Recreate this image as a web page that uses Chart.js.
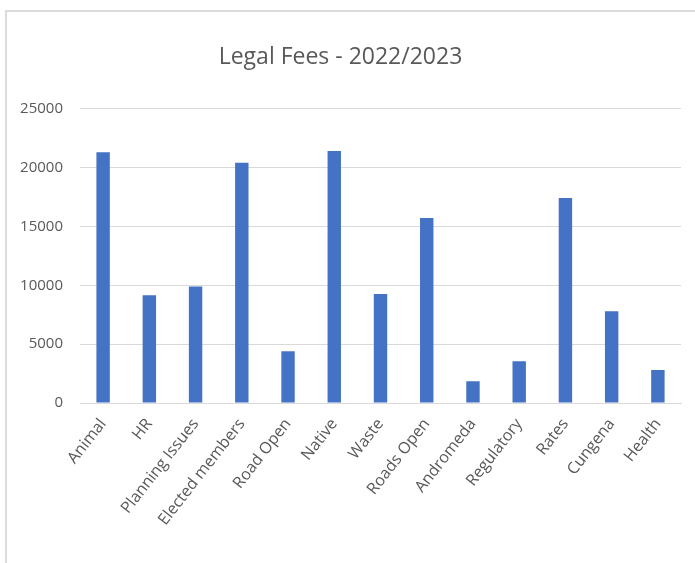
<!DOCTYPE html>
<html>
<head>
<meta charset="utf-8">
<script src="https://cdn.jsdelivr.net/npm/chart.js@4/dist/chart.umd.min.js"></script>
<style>
    body { margin: 0; background: #fff; }
    #wrap { position: relative; width: 695px; height: 563px; overflow: hidden; }
    #frame {
        position: absolute; left: 5px; top: 10px; width: 720px; height: 600px;
        border-left: 2px solid #dcdcdc; border-top: 2px solid #dcdcdc;
        pointer-events: none;
    }
</style>
</head>
<body>
<div id="wrap">
    <canvas id="graphCanvasFees" width="695" height="563"></canvas>
    <div id="frame"></div>
</div>
<script>
var categories = ['Animal', 'HR', 'Planning Issues', 'Elected members', 'Road Open', 'Native',
    'Waste', 'Roads Open', 'Andromeda', 'Regulatory', 'Rates', 'Cungena', 'Health'];
var fees = [21300, 9150, 9900, 20400, 4400, 21400, 9250, 15700, 1850, 3550, 17400, 7800, 2800];
var yTicks = [0, 5000, 10000, 15000, 20000, 25000];

function showGraphFees() {
    var chartdata = {
        labels: categories,
        datasets: [{
            label: 'Legal Fees',
            backgroundColor: '#4472C4',
            borderWidth: 0,
            data: fees,
            categoryPercentage: 1,
            barPercentage: 0.29
        }]
    };

    var graphTarget = document.getElementById('graphCanvasFees');

    var barGraph = new Chart(graphTarget, {
        type: 'bar',
        data: chartdata,
        options: {
            responsive: false,
            animation: false,
            layout: { padding: { left: 0, right: 14, top: 0, bottom: 0 } },
            plugins: {
                legend: { display: false },
                tooltip: { enabled: false },
                title: {
                    display: true,
                    text: 'Legal Fees - 2022/2023',
                    color: '#595959',
                    font: { family: 'Open Sans', size: 23, weight: 'normal' },
                    padding: { top: 44, bottom: 37 }
                }
            },
            scales: {
                x: {
                    grid: { display: false, drawTicks: false },
                    border: { display: true, color: '#d9d9d9', width: 1 },
                    ticks: {
                        color: '#595959',
                        font: { family: 'Open Sans', size: 16 },
                        minRotation: 52,
                        maxRotation: 52,
                        autoSkip: false,
                        padding: 12
                    },
                    afterFit: function(scale) { scale.height = 160; }
                },
                y: {
                    min: 0,
                    max: 25000,
                    grid: { color: '#d9d9d9', lineWidth: 1, drawTicks: false },
                    border: { display: false },
                    afterBuildTicks: function(scale) {
                        scale.ticks = yTicks.map(function(v) { return { value: v }; });
                    },
                    ticks: {
                        color: '#595959',
                        font: { family: 'Open Sans', size: 15 },
                        padding: 17,
                        callback: function(value) { return String(value); }
                    },
                    afterFit: function(scale) { scale.width = 80; }
                }
            }
        }
    });
}

showGraphFees();
</script>
</body>
</html>
